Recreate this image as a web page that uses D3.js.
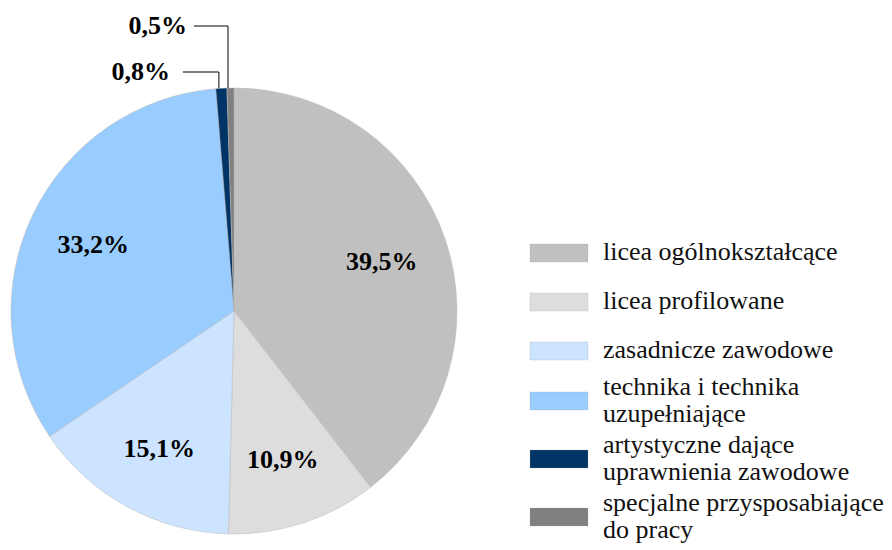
<!DOCTYPE html>
<html>
<head>
<meta charset="utf-8">
<script src="https://cdn.jsdelivr.net/npm/d3@7"></script>
<style>
    body { margin: 0; background: #fff; }
    svg text { font-family: 'Liberation Serif', 'DejaVu Serif'; }
</style>
</head>
<body>
<div id="chart"></div>
<script>
// school types, share of pupils (%)
let categories = [
    'licea ogólnokształcące',
    'licea profilowane',
    'zasadnicze zawodowe',
    'technika i technika uzupełniające',
    'artystyczne dające uprawnienia zawodowe',
    'specjalne przysposabiające do pracy'
];
let values = [39.5, 10.9, 15.1, 33.2, 0.8, 0.5];
let valueLabels = ['39,5%', '10,9%', '15,1%', '33,2%', '0,8%', '0,5%'];
// legend text split into lines, as in the original
let legendLines = [
    ['licea ogólnokształcące'],
    ['licea profilowane'],
    ['zasadnicze zawodowe'],
    ['technika i technika', 'uzupełniające'],
    ['artystyczne dające', 'uprawnienia zawodowe'],
    ['specjalne przysposabiające', 'do pracy']
];
let colors = ['#c0c0c0', '#dddddd', '#cce4ff', '#99ccff', '#003366', '#808080'];

let width = 892, height = 550;
let cx = 234, cy = 311, r = 223;

let svg = d3.select('#chart').append('svg')
    .attr('width', width)
    .attr('height', height);

let pie = d3.pie().sort(null).value(d => d);
let arcs = pie(values);

let arc = d3.arc().innerRadius(0).outerRadius(r);
let labelArc = d3.arc().innerRadius(r * 0.7).outerRadius(r * 0.7);

let g = svg.append('g').attr('transform', `translate(${cx},${cy})`);

g.selectAll('path.slice')
    .data(arcs)
    .enter()
    .append('path')
    .attr('class', 'slice')
    .attr('d', arc)
    .attr('fill', (d, i) => colors[i])
    .attr('stroke', '#b8b8b8')
    .attr('stroke-width', 0.5);

// big slices: label inside
let big = arcs.filter(d => d.data >= 5);
g.selectAll('text.inlabel')
    .data(big)
    .enter()
    .append('text')
    .attr('class', 'inlabel')
    .attr('x', d => labelArc.centroid(d)[0])
    .attr('y', d => labelArc.centroid(d)[1])
    .attr('dy', '0.35em')
    .attr('text-anchor', 'middle')
    .attr('font-size', 26)
    .attr('font-weight', 'bold')
    .text(d => valueLabels[d.index]);

// tiny slices: label above with elbow leader
let small = arcs.filter(d => d.data < 5);
let rise = { 4: 16, 5: 62 };     // how far above the rim each label sits
let lineLen = { 4: 36, 5: 34 };
let gapText = { 4: 13, 5: 7 };

small.forEach(d => {
    let mid = (d.startAngle + d.endAngle) / 2;
    let px = Math.sin(mid) * r - 2.5;
    let py = -Math.cos(mid) * r;
    let ly = -r - rise[d.index];
    let lx = px - lineLen[d.index];

    g.append('path')
        .attr('d', `M${px},${py}L${px},${ly}L${lx},${ly}`)
        .attr('fill', 'none')
        .attr('stroke', '#000')
        .attr('stroke-width', 1);

    g.append('text')
        .attr('x', lx - gapText[d.index])
        .attr('y', ly)
        .attr('dy', '0.3em')
        .attr('text-anchor', 'end')
        .attr('font-size', 26)
        .attr('font-weight', 'bold')
        .text(valueLabels[d.index]);
});

// legend
let legend = svg.append('g');
let lineH = 27;
let yPos = 253;
legendLines.forEach((lines, i) => {
    let item = legend.append('g').attr('transform', `translate(530,${yPos})`);

    item.append('rect')
        .attr('x', 0)
        .attr('y', -9)
        .attr('width', 58)
        .attr('height', 18)
        .attr('fill', colors[i])
        .attr('stroke', '#a0a0a0')
        .attr('stroke-width', 0.5)
        .attr('stroke-dasharray', '1,1');

    let off = -(lines.length - 1) * lineH / 2;
    lines.forEach((t, j) => {
        item.append('text')
            .attr('x', 73)
            .attr('y', off + j * lineH)
            .attr('dy', '0.28em')
            .attr('font-size', 26)
            .attr('fill', '#111')
            .text(t);
    });

    let next = legendLines[i + 1];
    if (next) {
        yPos += (lines.length === 2 && next.length === 2) ? 58 : (lines.length + next.length === 3 ? 50 : 49);
    }
});
</script>
</body>
</html>
